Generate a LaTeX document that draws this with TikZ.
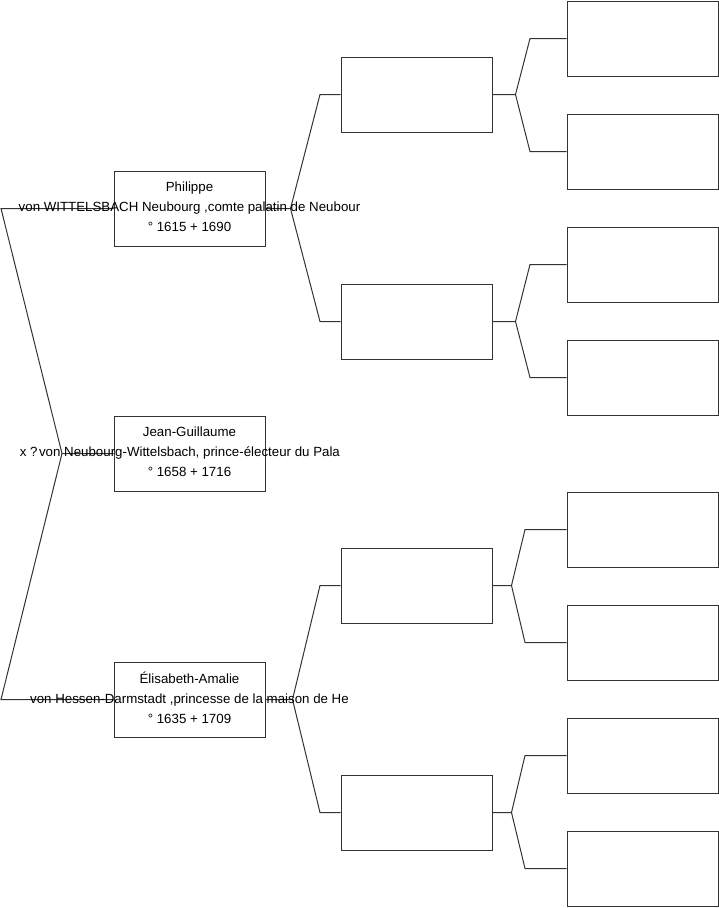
\documentclass[tikz,border=0pt]{standalone}
\usepackage{fontspec}
\setmainfont{Liberation Sans}
\usepackage{tikz}
\usetikzlibrary{calc}

\tikzset{
  pbox/.style={draw=black!80,line width=1pt,minimum width=151pt,
    minimum height=75pt,inner sep=0pt},
  ptext/.style={align=center,inner sep=0pt,font=\fontsize{13.3}{20}\selectfont},
  link/.style={draw=black!80,line width=1pt}
}

\begin{document}
\begin{tikzpicture}[x=1pt,y=-1pt]
  \useasboundingbox (0,0) rectangle (719,908);
  % generation 1
  \node[pbox] (phil) at (189.5,208.5) {};
  \node[pbox] (jg)   at (189.5,453.5) {};
  \node[pbox] (elis) at (189.5,699.5) {};
  % generation 2
  \node[pbox] (pa) at (416.5,94.5) {};
  \node[pbox] (pb) at (416.5,321.5) {};
  \node[pbox] (ea) at (416.5,585.5) {};
  \node[pbox] (eb) at (416.5,812.5) {};
  % generation 3
  \node[pbox] (paa) at (642.5,38.5) {};
  \node[pbox] (pab) at (642.5,151.5) {};
  \node[pbox] (pba) at (642.5,264.5) {};
  \node[pbox] (pbb) at (642.5,377.5) {};
  \node[pbox] (eaa) at (642.5,529.5) {};
  \node[pbox] (eab) at (642.5,642.5) {};
  \node[pbox] (eba) at (642.5,755.5) {};
  \node[pbox] (ebb) at (642.5,868.5) {};
  % left bracket (couple)
  \coordinate (lt) at (1,208.5);
  \coordinate (lm) at (62,453.5);
  \coordinate (lb) at (1,699.5);
  \draw[link] (phil.west) -- (lt) -- (lm) -- (jg.west);
  \draw[link] (lm) -- (lb) -- (elis.west);
  % forks gen 1 -> gen 2
  \draw[link] (phil.east) -- ++(25,0) coordinate (fp)
    (fp) -- (pa.west -| 320,0) -- (pa.west)
    (fp) -- (pb.west -| 320,0) -- (pb.west);
  \draw[link] (elis.east) -- ++(27,0) coordinate (fe)
    (fe) -- (ea.west -| 320,0) -- (ea.west)
    (fe) -- (eb.west -| 320,0) -- (eb.west);
  % forks gen 2 -> gen 3
  \draw[link] (pa.east) -- ++(23,0) coordinate (fpa)
    (fpa) -- (paa.west -| 530,0) -- (paa.west)
    (fpa) -- (pab.west -| 530,0) -- (pab.west);
  \draw[link] (pb.east) -- ++(23,0) coordinate (fpb)
    (fpb) -- (pba.west -| 530,0) -- (pba.west)
    (fpb) -- (pbb.west -| 530,0) -- (pbb.west);
  \draw[link] (ea.east) -- ++(19,0) coordinate (fea)
    (fea) -- (eaa.west -| 525,0) -- (eaa.west)
    (fea) -- (eab.west -| 525,0) -- (eab.west);
  \draw[link] (eb.east) -- ++(19,0) coordinate (feb)
    (feb) -- (eba.west -| 525,0) -- (eba.west)
    (feb) -- (ebb.west -| 525,0) -- (ebb.west);
  % names
  \node[ptext] (philt) at ($(phil.center)+(0,-2)$) {Philippe\\von WITTELSBACH Neubourg ,comte palatin de Neubour\\° 1615 + 1690};
  \node[ptext] (jgt) at ($(jg.center)+(0,-2)$) {Jean-Guillaume\\von Neubourg-Wittelsbach, prince-électeur du Pala\\° 1658 + 1716};
  \node[ptext] (elist) at ($(elis.center)+(0,-2)$) {Élisabeth-Amalie\\von Hessen-Darmstadt ,princesse de la maison de He\\° 1635 + 1709};
  \node[ptext,anchor=east] (marr) at ($(jgt.west)+(-1,0)$) {x ?};
\end{tikzpicture}
\end{document}
